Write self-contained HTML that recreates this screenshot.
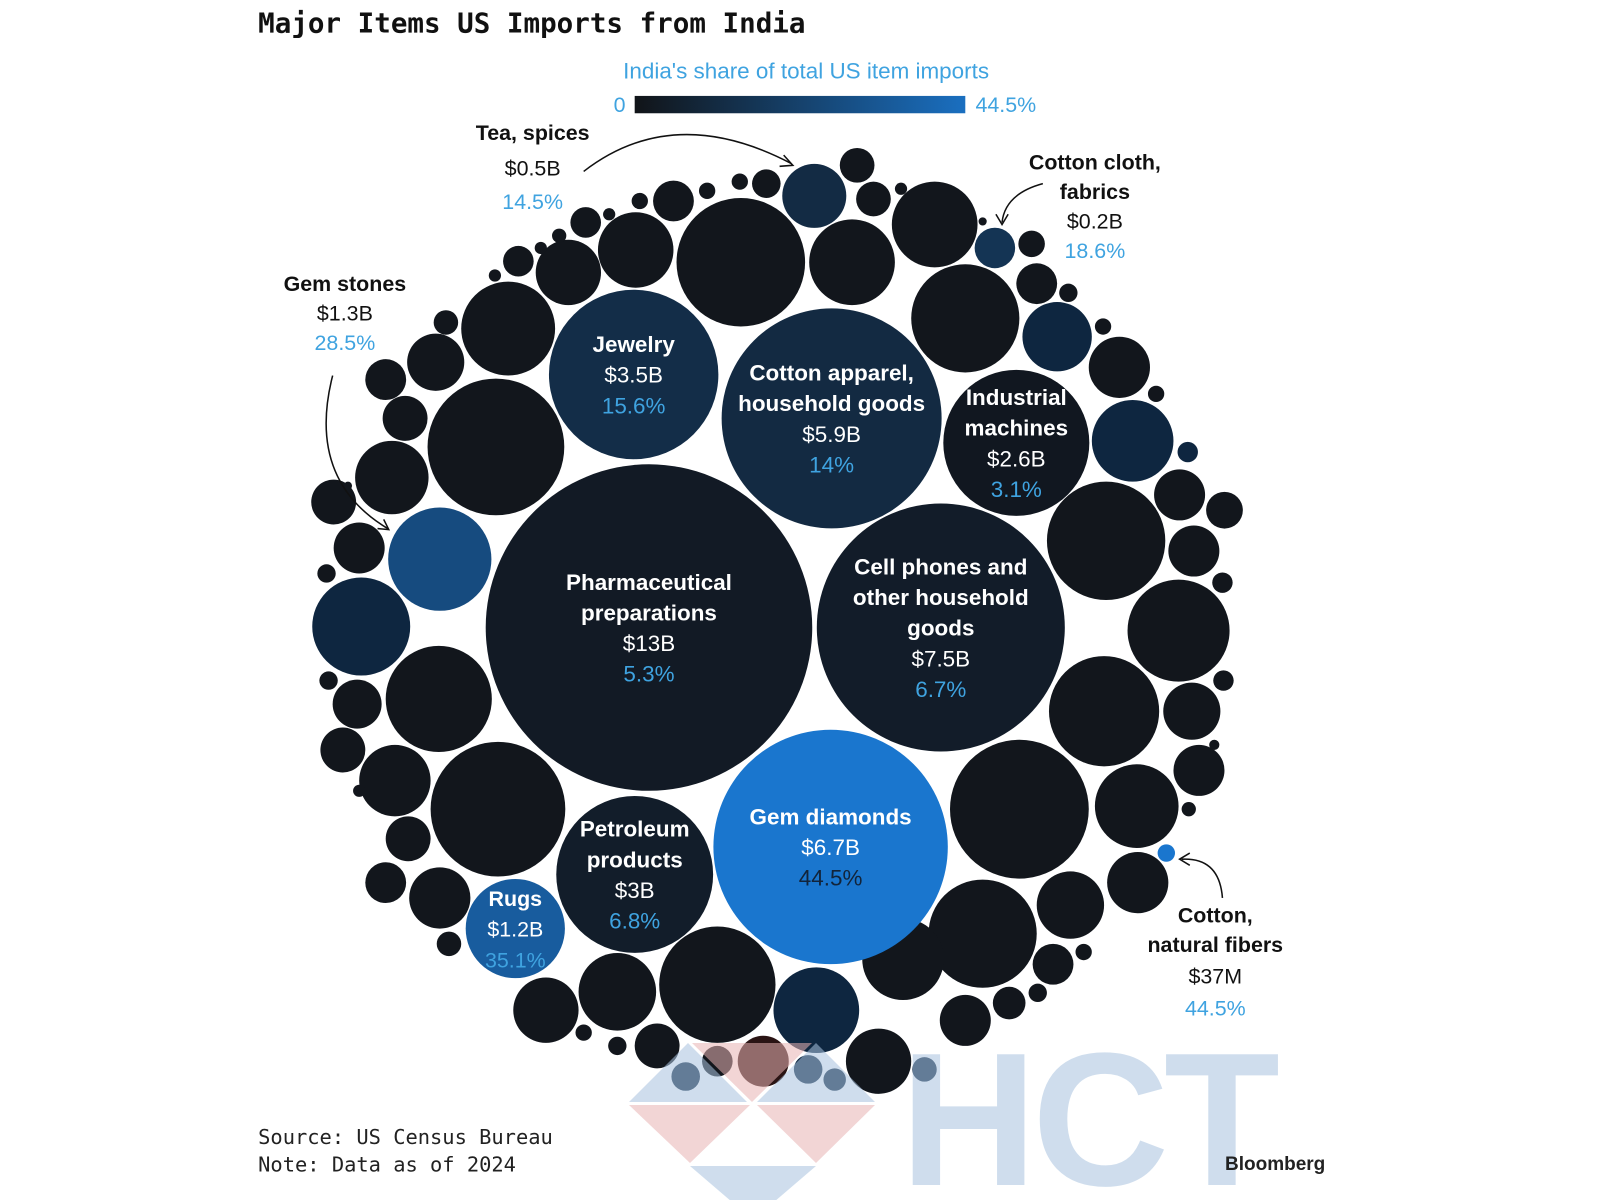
<!DOCTYPE html>
<html><head><meta charset="utf-8">
<style>
html,body{margin:0;padding:0;background:#fff;}
svg{display:block;}
</style></head>
<body>
<svg id="chart" width="1600" height="1200" viewBox="0 0 1600 1200" xmlns="http://www.w3.org/2000/svg">
<g transform="scale(1.0204)">
  <text x="253" y="32" font-family="'DejaVu Sans Mono', 'Liberation Mono', monospace" font-weight="bold" font-size="27" fill="#111">Major Items US Imports from India</text>
  <text x="790" y="77" text-anchor="middle" font-family="'Liberation Sans', sans-serif" font-size="22" fill="#3fa3e0">India's share of total US item imports</text>
  <defs>
    <linearGradient id="lg" x1="0" x2="1" y1="0" y2="0">
      <stop offset="0" stop-color="#111418"/><stop offset="1" stop-color="#1a6fc0"/>
    </linearGradient>
  </defs>
  <text x="613" y="110" text-anchor="end" font-family="'Liberation Sans', sans-serif" font-size="21" fill="#3fa3e0">0</text>
  <rect x="622" y="94" width="324" height="17" fill="url(#lg)"/>
  <text x="956" y="110" font-family="'Liberation Sans', sans-serif" font-size="21" fill="#3fa3e0">44.5%</text>
  <g id="bubbles"></g>
  <g id="labels"></g>
  <g id="annot" font-family="'Liberation Sans', sans-serif" font-size="21" text-anchor="middle" fill="#111">
    <g>
      <text x="522" y="137" font-weight="bold">Tea, spices</text><text x="522" y="172">$0.5B</text><text x="522" y="205" fill="#3fa3e0">14.5%</text>
      <path d="M572 168 Q660 100 775 160" fill="none" stroke="#111" stroke-width="1.5"/>
      <path d="M768 152 L777 162 L764 163" fill="none" stroke="#111" stroke-width="1.5"/>
    </g>
    <g>
      <text x="1073" y="166" font-weight="bold">Cotton cloth,</text><text x="1073" y="195" font-weight="bold">fabrics</text><text x="1073" y="224">$0.2B</text><text x="1073" y="253" fill="#3fa3e0">18.6%</text>
      <path d="M1022 180 Q985 190 982 218" fill="none" stroke="#111" stroke-width="1.5"/>
      <path d="M976 210 L982 220 L988 210" fill="none" stroke="#111" stroke-width="1.5"/>
    </g>
    <g>
      <text x="338" y="285" font-weight="bold">Gem stones</text><text x="338" y="314">$1.3B</text><text x="338" y="343" fill="#3fa3e0">28.5%</text>
      <path d="M326 368 Q300 470 380 518" fill="none" stroke="#111" stroke-width="1.5"/>
      <path d="M370 518 L381 519 L376 509" fill="none" stroke="#111" stroke-width="1.5"/>
    </g>
    <g>
      <text x="1191" y="904" font-weight="bold">Cotton,</text><text x="1191" y="933" font-weight="bold">natural fibers</text><text x="1191" y="964">$37M</text><text x="1191" y="995" fill="#3fa3e0">44.5%</text>
      <path d="M1198 880 Q1195 840 1158 842" fill="none" stroke="#111" stroke-width="1.5"/>
      <path d="M1166 836 L1156 842 L1166 848" fill="none" stroke="#111" stroke-width="1.5"/>
    </g>
  </g>
  <text x="253" y="1121" font-family="'DejaVu Sans Mono', 'Liberation Mono', monospace" font-size="20" fill="#222">Source: US Census Bureau</text>
  <text x="253" y="1148" font-family="'DejaVu Sans Mono', 'Liberation Mono', monospace" font-size="20" fill="#222">Note: Data as of 2024</text>
</g>
<g opacity="0.55">
  <polygon points="629,1102 688,1043 747,1102" fill="#a9c3df"/>
  <polygon points="692,1043 812,1043 752,1102" fill="#e8b3b3"/>
  <polygon points="757,1102 816,1043 875,1102" fill="#a9c3df"/>
  <polygon points="629,1105 750,1105 690,1163" fill="#e8b3b3"/>
  <polygon points="757,1105 875,1105 816,1163" fill="#e8b3b3"/>
  <polygon points="690,1166 816,1166 753,1220" fill="#a9c3df"/>
  <text x="900" y="1185" font-family="'Liberation Sans', sans-serif" font-weight="bold" font-size="190" fill="#a9c3df" textLength="380">HCT</text>
</g>
<text x="1225" y="1170" font-family="'Liberation Sans', sans-serif" font-weight="bold" font-size="19" fill="#222">Bloomberg</text>
</svg>
<script>
// Labeled items data
const names = ["Pharmaceutical preparations","Cell phones and other household goods","Gem diamonds","Cotton apparel, household goods","Jewelry","Petroleum products","Industrial machines","Gem stones","Rugs","Tea, spices","Cotton cloth, fabrics","Cotton, natural fibers"];
const valuesB = [13, 7.5, 6.7, 5.9, 3.5, 3, 2.6, 1.3, 1.2, 0.5, 0.2, 0.037];
const shares = [5.3, 6.7, 44.5, 14, 15.6, 6.8, 3.1, 28.5, 35.1, 14.5, 18.6, 44.5];
const valueText = ["$13B","$7.5B","$6.7B","$5.9B","$3.5B","$3B","$2.6B","$1.3B","$1.2B","$0.5B","$0.2B","$37M"];
const inLabel = [["Pharmaceutical","preparations"],["Cell phones and","other household","goods"],["Gem diamonds"],["Cotton apparel,","household goods"],["Jewelry"],["Petroleum","products"],["Industrial","machines"],null,["Rugs"],null,null,null];
// layout (pack positions, not data)
const centers = [[636,615],[922,615],[814,830],[815,410],[621,367],[622,857],[996,434],[431,548],[505,910],[798,192],[975,243],[1143,836]];
// unlabeled background bubbles: layout [x, y, radius, shade]
const others = [[726,257,63,0],[486,438,67,0],[430,685,52,0],[488,793,66,0],[354,614,48,1],[835,257,42,0],[946,312,53,0],[916,220,42,0],[1084,530,58,0],[1155,618,50,0],[1082,697,54,0],[999,793,68,0],[963,915,53,0],[1114,790,41,0],[1049,887,33,0],[703,965,57,0],[800,990,42,1],[885,940,40,0],[861,1040,32,0],[605,972,38,0],[535,990,32,0],[498,322,46,0],[623,245,37,0],[557,267,32,0],[1036,330,34,1],[1097,360,30,0],[1110,432,40,1],[1156,485,25,0],[1170,540,25,0],[1168,697,28,0],[1175,755,25,0],[1200,500,18,0],[1016,278,20,0],[384,468,36,0],[397,410,22,0],[427,355,28,0],[378,372,20,0],[352,537,25,0],[327,492,22,0],[350,690,24,0],[336,735,22,0],[387,765,35,0],[400,822,22,0],[378,865,20,0],[431,880,30,0],[946,1000,25,0],[989,983,16,0],[1032,945,20,0],[1115,865,30,0],[660,197,20,0],[840,162,17,0],[856,195,17,0],[751,180,14,0],[644,1025,22,0],[1198,571,10,0],[672,1055,14,1],[703,1040,15,0],[748,1040,25,2],[792,1048,14,1],[818,1058,11,1],[906,1048,12,1],[725,178,8,0],[693,187,8,0],[627,197,8,0],[597,210,6,0],[574,218,15,0],[548,231,7,0],[530,243,6,0],[508,256,15,0],[485,270,6,0],[437,316,12,0],[1011,239,13,0],[1047,287,9,0],[1081,320,8,0],[1133,386,8,0],[1164,443,10,1],[1199,667,10,0],[1190,730,5,0],[1165,793,7,0],[1062,933,8,0],[1017,973,9,0],[322,667,9,0],[320,562,9,0],[352,775,6,0],[440,925,12,0],[572,1012,8,0],[605,1025,9,0],[883,185,6,0],[963,217,4,0],[341,476,4,0]];

const NS = "http://www.w3.org/2000/svg";
const rScale = v => 160 * Math.sqrt(v / 13);
function colorFor(s){
  const t = Math.min(1, s / 44.5);
  const a=[17,20,26], b=[26,118,206];
  const c=a.map((x,i)=>Math.round(x+(b[i]-x)*Math.pow(t,1.3)));
  return `rgb(${c[0]},${c[1]},${c[2]})`;
}
const shadeCols = ["#12161c","#0e2640","#2a1414"];
const gB = document.getElementById("bubbles");
const gL = document.getElementById("labels");
others.forEach(o => {
  const c = document.createElementNS(NS,"circle");
  c.setAttribute("cx",o[0]); c.setAttribute("cy",o[1]); c.setAttribute("r",o[2]);
  c.setAttribute("fill",shadeCols[o[3]]);
  
  
  gB.appendChild(c);
});
names.forEach((n,i) => {
  const c = document.createElementNS(NS,"circle");
  c.setAttribute("cx",centers[i][0]); c.setAttribute("cy",centers[i][1]);
  c.setAttribute("r",rScale(valuesB[i]));
  c.setAttribute("fill",colorFor(shares[i]));
  
  
  gB.appendChild(c);
  const lines = inLabel[i];
  if (!lines) return;
  const all = lines.map(t=>[t,"#fff","bold"]).concat([[valueText[i],"#fff","normal"],[shares[i]+"%", shares[i]>40?"#12243a":"#3fa3e0","normal"]]);
  const lh = 30, fs = i===8 ? 21 : 22;
  const y0 = centers[i][1] - (all.length-1)*lh/2 + 8;
  all.forEach((l,k)=>{
    const t = document.createElementNS(NS,"text");
    t.setAttribute("x",centers[i][0]); t.setAttribute("y",y0+k*lh);
    t.setAttribute("text-anchor","middle");
    t.setAttribute("font-family","'Liberation Sans', sans-serif");
    t.setAttribute("font-size",fs); t.setAttribute("font-weight",l[2]);
    t.setAttribute("fill",l[1]);
    
    
    t.textContent = l[0];
    gL.appendChild(t);
  });
});
</script>
</body></html>
